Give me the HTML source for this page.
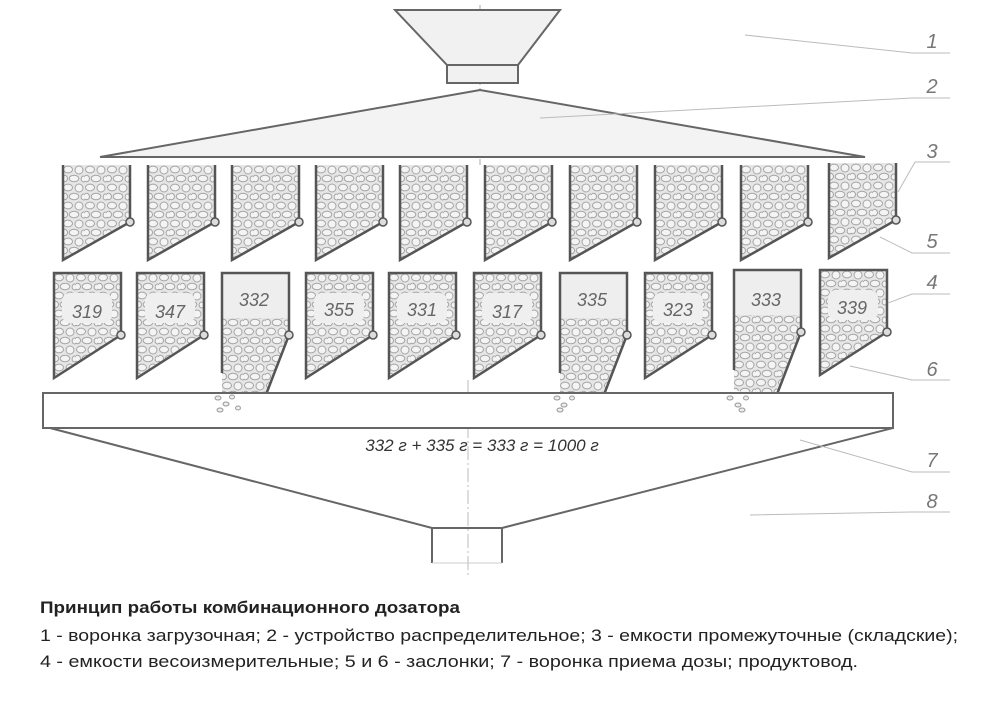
<!DOCTYPE html>
<html><head><meta charset="utf-8"><style>
html,body{margin:0;padding:0;background:#fff;}
svg{display:block;}
</style></head><body>
<svg width="1000" height="707" viewBox="0 0 1000 707" xmlns="http://www.w3.org/2000/svg">
<defs>
<pattern id="gr" width="22" height="18" patternUnits="userSpaceOnUse">
<rect width="22" height="18" fill="#e6e6e6"/>
<ellipse cx="5" cy="4.5" rx="4.5" ry="3.4" fill="#f4f4f4" stroke="#a5a5a5" stroke-width="1"/>
<ellipse cx="16" cy="5" rx="4" ry="4" fill="#f4f4f4" stroke="#a5a5a5" stroke-width="1"/>
<ellipse cx="11" cy="13.5" rx="4.8" ry="3.3" fill="#f4f4f4" stroke="#a5a5a5" stroke-width="1"/>
<ellipse cx="1.5" cy="13.5" rx="3" ry="3.2" fill="#f4f4f4" stroke="#a5a5a5" stroke-width="1"/>
<ellipse cx="20.5" cy="14" rx="2.4" ry="3" fill="#f4f4f4" stroke="#a5a5a5" stroke-width="1"/>
</pattern>
<g id="top">
<path d="M0,0 L0,95 L67,57 L67,0 Z" fill="url(#gr)"/>
<path d="M0,0 L0,95 L67,57 L67,0" fill="none" stroke="#555" stroke-width="2.5"/>
<circle cx="67" cy="57" r="4" fill="#ddd" stroke="#555" stroke-width="1.5"/>
</g>
<g id="wc">
<path d="M0,0 L67,0 L67,62 L0,105 Z" fill="url(#gr)"/>
<rect x="8" y="20" width="50" height="30" rx="8" fill="#efefef"/>
<path d="M0,0 L67,0 L67,62 L0,105 Z" fill="none" stroke="#555" stroke-width="2.5"/>
<circle cx="67" cy="62" r="4" fill="#ddd" stroke="#555" stroke-width="1.5"/>
</g>
<g id="wo">
<rect x="0" y="0" width="67" height="50" fill="#eeeeee"/>
<path d="M0,45 L67,45 L67,62 L42,130 L0,120 Z" fill="url(#gr)"/>
<path d="M0,100 L0,0 L67,0 L67,62" fill="none" stroke="#555" stroke-width="2.5"/>
<path d="M67,62 L40,132" stroke="#555" stroke-width="2.5"/>
<circle cx="67" cy="62" r="4" fill="#ddd" stroke="#555" stroke-width="1.5"/>
</g>
</defs>

<line x1="480" y1="5" x2="480" y2="165" stroke="#aaa" stroke-width="1" stroke-dasharray="14,3,2,3"/>
<line x1="468" y1="380" x2="468" y2="575" stroke="#bbb" stroke-width="1" stroke-dasharray="14,3,2,3"/>

<path d="M395,10 L560,10 L518,65 L447,65 Z" fill="#f1f1f1" stroke="#666" stroke-width="2"/>
<rect x="447" y="65" width="71" height="18" fill="#f1f1f1" stroke="#666" stroke-width="2"/>
<path d="M100,157 L480,90 L865,157 Z" fill="#f3f3f3" stroke="#666" stroke-width="2"/>

<use href="#top" x="63" y="165"/>
<use href="#top" x="148" y="165"/>
<use href="#top" x="232" y="165"/>
<use href="#top" x="316" y="165"/>
<use href="#top" x="400" y="165"/>
<use href="#top" x="485" y="165"/>
<use href="#top" x="570" y="165"/>
<use href="#top" x="655" y="165"/>
<use href="#top" x="741" y="165"/>
<use href="#top" x="829" y="163"/>

<use href="#wc" x="54" y="273"/>
<use href="#wc" x="137" y="273"/>
<use href="#wo" x="222" y="273"/>
<use href="#wc" x="306" y="273"/>
<use href="#wc" x="389" y="273"/>
<use href="#wc" x="474" y="273"/>
<use href="#wo" x="560" y="273"/>
<use href="#wc" x="645" y="273"/>
<use href="#wo" x="734" y="270"/>
<use href="#wc" x="820" y="270"/>

<g font-family="Liberation Sans, sans-serif" font-size="18" fill="#666" text-anchor="middle" font-style="italic">
<text x="87" y="318">319</text>
<text x="170" y="318">347</text>
<text x="254" y="306">332</text>
<text x="339" y="316">355</text>
<text x="422" y="316">331</text>
<text x="507" y="318">317</text>
<text x="592" y="306">335</text>
<text x="678" y="316">323</text>
<text x="766" y="306">333</text>
<text x="852" y="314">339</text>
</g>

<path d="M43,393 L893,393 L893,428 L43,428 Z" fill="#fff" stroke="#666" stroke-width="2"/>
<path d="M50,428 L432,528 L502,528 L893,428" fill="none" stroke="#666" stroke-width="2"/>
<line x1="432" y1="528" x2="432" y2="563" stroke="#666" stroke-width="2"/>
<line x1="502" y1="528" x2="502" y2="563" stroke="#666" stroke-width="2"/>
<line x1="432" y1="563" x2="502" y2="563" stroke="#ccc" stroke-width="1"/>
<g fill="#eee" stroke="#999" stroke-width="1">
<ellipse cx="218" cy="398" rx="3" ry="2"/><ellipse cx="226" cy="404" rx="3" ry="2"/><ellipse cx="232" cy="397" rx="2.5" ry="2"/><ellipse cx="220" cy="410" rx="3" ry="2"/><ellipse cx="238" cy="408" rx="2.5" ry="2"/>
<ellipse cx="557" cy="398" rx="3" ry="2"/><ellipse cx="564" cy="405" rx="3" ry="2"/><ellipse cx="572" cy="398" rx="2.5" ry="2"/><ellipse cx="560" cy="410" rx="3" ry="2"/>
<ellipse cx="730" cy="398" rx="3" ry="2"/><ellipse cx="738" cy="405" rx="3" ry="2"/><ellipse cx="746" cy="398" rx="2.5" ry="2"/><ellipse cx="742" cy="410" rx="3" ry="2"/>
</g>

<text x="482" y="451" font-family="Liberation Sans, sans-serif" font-size="17" font-style="italic" fill="#333" text-anchor="middle">332 г + 335 г = 333 г = 1000 г</text>

<g stroke="#bbb" stroke-width="1" fill="none">
<path d="M745,35 L912,53 L950,53"/>
<path d="M540,118 L912,98 L950,98"/>
<path d="M898,192 L915,162 L950,162"/>
<path d="M880,237 L912,253 L950,253"/>
<path d="M888,303 L912,294 L950,294"/>
<path d="M850,366 L912,380 L950,380"/>
<path d="M800,440 L912,472 L950,472"/>
<path d="M750,515 L912,512 L950,512"/>
</g>
<g font-family="Liberation Sans, sans-serif" font-size="20" font-style="italic" fill="#777" text-anchor="middle">
<text x="932" y="48">1</text>
<text x="932" y="93">2</text>
<text x="932" y="158">3</text>
<text x="932" y="248">5</text>
<text x="932" y="289">4</text>
<text x="932" y="376">6</text>
<text x="932" y="467">7</text>
<text x="932" y="508">8</text>
</g>

<g font-family="Liberation Sans, sans-serif" font-size="17" fill="#222">
<text x="40" y="613" font-weight="bold" textLength="420" lengthAdjust="spacingAndGlyphs">Принцип работы комбинационного дозатора</text>
<text x="40" y="641" textLength="918" lengthAdjust="spacingAndGlyphs">1 - воронка загрузочная; 2 - устройство распределительное; 3 - емкости промежуточные (складские);</text>
<text x="40" y="667" textLength="818" lengthAdjust="spacingAndGlyphs">4 - емкости весоизмерительные; 5 и 6 - заслонки; 7 - воронка приема дозы; продуктовод.</text>
</g>
</svg>
</body></html>
